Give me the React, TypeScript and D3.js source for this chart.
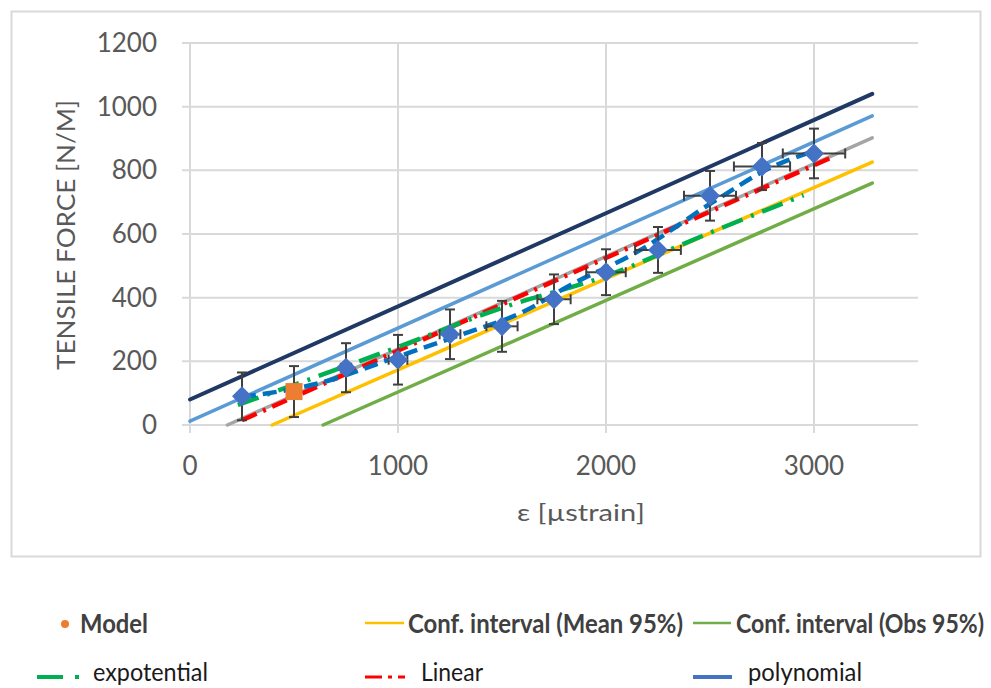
import React from "react";
import * as d3 from "d3";

// ---------- data ----------
const xTicks = [0, 1000, 2000, 3000];
const yTicks = [0, 200, 400, 600, 800, 1000, 1200];

// measured points (blue diamonds)
const strain = [250, 750, 1000, 1250, 1500, 1750, 2000, 2250, 2500, 2750, 3000];
const force = [90, 180, 205, 285, 310, 395, 480, 550, 720, 812, 853];
const forceErr = [75, 77, 78, 78, 80, 78, 72, 72, 78, 74, 78];
const strainErr = [15, 25, 45, 50, 75, 80, 95, 110, 125, 135, 150];

// model point (orange square)
const modelStrain = [500];
const modelForce = [105];
const modelErr = [80];

// straight reference lines [strain, force]
const navyLine: [number, number][] = [[0, 80], [3280, 1040]];
const lightBlueLine: [number, number][] = [[0, 12], [3280, 971]];
const grayLine: [number, number][] = [[180, 0], [3280, 902]];
const meanCI: [number, number][] = [[395, 0], [3280, 826]];
const obsCI: [number, number][] = [[640, 0], [3280, 760]];

// fitted curves
const linearFit: [number, number][] = [[250, 15], [3100, 845]];
const expFit: [number, number][] = [[230, 63], [1000, 245], [1500, 368], [2000, 468], [2500, 604], [2950, 722]];
const polyFit: [number, number][] = [[250, 88], [625, 132], [1000, 215], [1300, 283], [1600, 355], [1830, 440], [2150, 544], [2530, 707], [2800, 811], [2970, 854]];

const legendRow1 = ["Model", "Conf. interval (Mean 95%)", "Conf. interval (Obs 95%)"];
const legendRow2 = ["expotential", "Linear", "polynomial"];

// ---------- layout ----------
const W = 991;
const H = 688;
const x = d3.scaleLinear().domain([0, 3500]).range([190, 918]);
const y = d3.scaleLinear().domain([0, 1200]).range([425, 43]);
const FONT = "Lato, 'Open Sans', sans-serif";

const straight = d3.line<[number, number]>().x((d) => x(d[0])).y((d) => y(d[1]));
const smooth = d3
  .line<[number, number]>()
  .x((d) => x(d[0]))
  .y((d) => y(d[1]))
  .curve(d3.curveMonotoneX);

function diamond(cx: number, cy: number, r: number) {
  return `M${cx},${cy - r}L${cx + r},${cy}L${cx},${cy + r}L${cx - r},${cy}Z`;
}

function LegendText(props: { x: number; y: number; len: number; bold?: boolean; children: string }) {
  return (
    <g transform={`translate(${props.x},${props.y}) scale(1,1.18)`}>
      <text
        x={0}
        y={0}
        fontSize={22}
        fontWeight={props.bold ? "bold" : "normal"}
        fill={props.bold ? "#404040" : "#1a1a1a"}
        textLength={props.len}
        lengthAdjust="spacingAndGlyphs"
      >
        {props.children}
      </text>
    </g>
  );
}

export default function App() {
  const errColor = "#404040";
  return (
    <svg
      width={W}
      height={H}
      style={{ position: "absolute", left: 0, top: 0, background: "#fff" }}
      fontFamily={FONT}
    >
      <rect x={0} y={0} width={W} height={H} fill="#fff" />
      {/* chart frame */}
      <rect x={11.5} y={11.5} width={969} height={545} fill="none" stroke="#d9d9d9" strokeWidth={2} />

      {/* gridlines */}
      {yTicks.map((t) => (
        <line key={"gy" + t} x1={182} x2={x(3500)} y1={y(t)} y2={y(t)} stroke="#d9d9d9" strokeWidth={2} />
      ))}
      {xTicks.map((t) => (
        <line key={"gx" + t} x1={x(t)} x2={x(t)} y1={y(1200)} y2={433} stroke="#d9d9d9" strokeWidth={2} />
      ))}

      {/* tick labels */}
      {yTicks.map((t) => (
        <text key={"ly" + t} x={157} y={y(t) + 9} textAnchor="end" fontSize={26} fill="#595959">
          {t}
        </text>
      ))}
      {xTicks.map((t) => (
        <text key={"lx" + t} x={x(t)} y={475} textAnchor="middle" fontSize={26} fill="#595959">
          {t}
        </text>
      ))}

      {/* axis titles */}
      <text
        transform="translate(75,235) rotate(-90)"
        textAnchor="middle"
        fontSize={25}
        fill="#595959"
        textLength={270}
        lengthAdjust="spacingAndGlyphs"
      >
        TENSILE FORCE [N/M]
      </text>
      <text x={517} y={521} fontSize={24} fill="#595959" textLength={128} lengthAdjust="spacingAndGlyphs">
        ε [µstrain]
      </text>

      {/* solid lines */}
      <path d={straight(navyLine) || ""} fill="none" stroke="#203864" strokeWidth={4} strokeLinecap="round" />
      <path d={straight(lightBlueLine) || ""} fill="none" stroke="#5B9BD5" strokeWidth={3.5} strokeLinecap="round" />
      <path d={straight(grayLine) || ""} fill="none" stroke="#A5A5A5" strokeWidth={3.5} strokeLinecap="round" />
      <path d={straight(meanCI) || ""} fill="none" stroke="#FFC000" strokeWidth={3.5} strokeLinecap="round" />
      <path d={straight(obsCI) || ""} fill="none" stroke="#70AD47" strokeWidth={3.5} strokeLinecap="round" />

      {/* fitted curves */}
      <path d={straight(linearFit) || ""} fill="none" stroke="#FF0000" strokeWidth={4.5} strokeDasharray="16 7 3 7" />
      <path d={smooth(expFit) || ""} fill="none" stroke="#00B050" strokeWidth={4.5} strokeDasharray="22 9 3 9" />
      <path d={smooth(polyFit) || ""} fill="none" stroke="#0070C0" strokeWidth={4.5} strokeDasharray="14 7" />

      {/* error bars */}
      {strain.map((s, i) => {
        const cx = x(s);
        const cy = y(force[i]);
        const y1 = y(force[i] + forceErr[i]);
        const y2 = y(force[i] - forceErr[i]);
        const x1 = x(s - strainErr[i]);
        const x2 = x(s + strainErr[i]);
        return (
          <g key={"e" + i} stroke={errColor} strokeWidth={2}>
            <line x1={cx} x2={cx} y1={y1} y2={y2} />
            <line x1={cx - 5} x2={cx + 5} y1={y1} y2={y1} />
            <line x1={cx - 5} x2={cx + 5} y1={y2} y2={y2} />
            <line x1={x1} x2={x2} y1={cy} y2={cy} />
            <line x1={x1} x2={x1} y1={cy - 5} y2={cy + 5} />
            <line x1={x2} x2={x2} y1={cy - 5} y2={cy + 5} />
          </g>
        );
      })}
      {modelStrain.map((s, i) => {
        const cx = x(s);
        const y1 = y(modelForce[i] + modelErr[i]);
        const y2 = y(modelForce[i] - modelErr[i]);
        return (
          <g key={"me" + i} stroke={errColor} strokeWidth={2}>
            <line x1={cx} x2={cx} y1={y1} y2={y2} />
            <line x1={cx - 5} x2={cx + 5} y1={y1} y2={y1} />
            <line x1={cx - 5} x2={cx + 5} y1={y2} y2={y2} />
          </g>
        );
      })}

      {/* markers */}
      {strain.map((s, i) => (
        <path key={"d" + i} d={diamond(x(s), y(force[i]), 10)} fill="#4472C4" />
      ))}
      {modelStrain.map((s, i) => (
        <rect key={"m" + i} x={x(s) - 8.5} y={y(modelForce[i]) - 8.5} width={17} height={17} fill="#ED7D31" />
      ))}

      {/* legend row 1 */}
      <circle cx={65} cy={624} r={4} fill="#ED7D31" />
      <LegendText x={80} y={633} len={68} bold>
        {legendRow1[0]}
      </LegendText>
      <line x1={365} x2={404} y1={623} y2={623} stroke="#FFC000" strokeWidth={2.5} />
      <LegendText x={408} y={633} len={275} bold>
        {legendRow1[1]}
      </LegendText>
      <line x1={693} x2={731} y1={623} y2={623} stroke="#70AD47" strokeWidth={2.5} />
      <LegendText x={736} y={633} len={248} bold>
        {legendRow1[2]}
      </LegendText>

      {/* legend row 2 */}
      <line x1={37} x2={63} y1={677} y2={677} stroke="#00B050" strokeWidth={4} />
      <line x1={75} x2={79} y1={677} y2={677} stroke="#00B050" strokeWidth={4} />
      <LegendText x={93} y={681} len={115}>
        {legendRow2[0]}
      </LegendText>
      <line x1={365} x2={382} y1={677} y2={677} stroke="#FF0000" strokeWidth={3} />
      <line x1={388} x2={392} y1={677} y2={677} stroke="#FF0000" strokeWidth={3} />
      <line x1={398} x2={405} y1={677} y2={677} stroke="#FF0000" strokeWidth={3} />
      <LegendText x={421} y={681} len={62}>
        {legendRow2[1]}
      </LegendText>
      <line x1={693} x2={732} y1={677} y2={677} stroke="#4472C4" strokeWidth={4} />
      <LegendText x={748} y={681} len={114}>
        {legendRow2[2]}
      </LegendText>
    </svg>
  );
}
